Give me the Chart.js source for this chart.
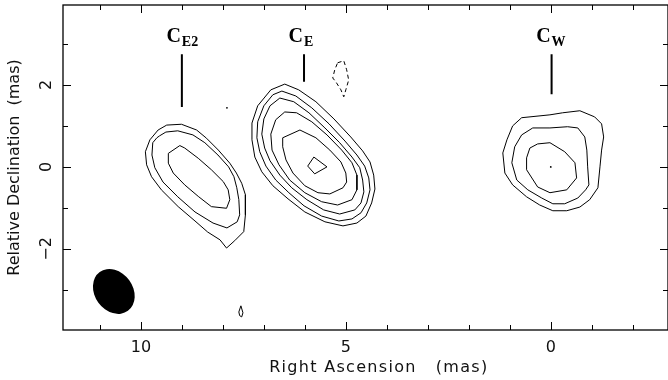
<!DOCTYPE html>
<html>
<head>
<meta charset="utf-8">
<script src="https://cdn.jsdelivr.net/npm/chart.js@4.4.1/dist/chart.umd.min.js"></script>
<style>
  body { margin: 0; background: #fff; }
</style>
</head>
<body>
<canvas id="mapChart" width="668" height="380"></canvas>
<script>
// axis limits in mas (RA grows to the left)
const raRange = [-2.86, 11.9];
const decRange = [-3.98, 3.95];
const raTickLabels = [10, 5, 0];
const decTickLabels = [2, 0, -2];

// component C_E2 contours [RA, Dec]
const ce2Outer = [[9.37,1.02],[9.01,1.04],[8.64,0.90],[8.40,0.70],[8.11,0.41],[7.83,0.09],[7.67,-0.15],[7.54,-0.40],[7.45,-0.68],[7.45,-1.17],[7.49,-1.58],[7.71,-1.80],[7.91,-1.98],[8.07,-1.78],[8.37,-1.59],[8.68,-1.32],[9.09,-0.97],[9.50,-0.56],[9.74,-0.24],[9.86,0.05],[9.89,0.37],[9.78,0.66],[9.58,0.90]];
const ce2Mid = [[9.54,0.76],[9.39,0.85],[9.10,0.88],[8.73,0.78],[8.44,0.59],[8.12,0.29],[7.86,0.00],[7.73,-0.24],[7.66,-0.51],[7.61,-0.80],[7.59,-1.17],[7.65,-1.34],[7.90,-1.49],[8.24,-1.37],[8.68,-1.10],[9.10,-0.73],[9.46,-0.37],[9.66,-0.02],[9.73,0.29],[9.71,0.59],[9.61,0.71]];
const ce2Inner = [[9.33,0.33],[9.05,0.52],[8.93,0.46],[8.60,0.21],[8.28,-0.07],[7.99,-0.36],[7.87,-0.56],[7.83,-0.80],[7.91,-1.01],[8.28,-0.97],[8.60,-0.72],[8.93,-0.44],[9.21,-0.15],[9.33,0.09]];

// component C_E contours
const ceLevel1 = [[6.49,2.02],[6.15,1.88],[5.73,1.59],[5.29,1.17],[4.88,0.73],[4.59,0.39],[4.41,0.12],[4.32,-0.20],[4.29,-0.54],[4.37,-0.88],[4.51,-1.20],[4.73,-1.37],[5.07,-1.44],[5.51,-1.34],[6.00,-1.10],[6.41,-0.78],[6.78,-0.46],[7.05,-0.12],[7.22,0.24],[7.29,0.66],[7.29,1.07],[7.15,1.49],[6.83,1.88]];
const ceLevel2 = [[6.56,1.85],[6.22,1.73],[5.83,1.44],[5.41,1.05],[5.02,0.63],[4.73,0.29],[4.54,0.02],[4.44,-0.27],[4.41,-0.56],[4.49,-0.88],[4.63,-1.12],[4.85,-1.27],[5.17,-1.32],[5.59,-1.20],[6.02,-0.95],[6.39,-0.63],[6.71,-0.32],[6.95,0.02],[7.10,0.37],[7.17,0.71],[7.15,1.10],[7.00,1.49],[6.78,1.76]];
const ceLevel3 = [[6.61,1.68],[6.27,1.59],[5.90,1.32],[5.51,0.95],[5.15,0.59],[4.85,0.24],[4.66,-0.02],[4.59,-0.32],[4.56,-0.61],[4.63,-0.88],[4.78,-1.05],[5.15,-1.15],[5.54,-1.05],[5.95,-0.80],[6.32,-0.51],[6.61,-0.20],[6.85,0.15],[6.98,0.46],[7.05,0.80],[7.00,1.17],[6.85,1.49]];
const ceLevel4 = [[6.49,1.34],[6.20,1.32],[5.83,1.10],[5.46,0.78],[5.10,0.41],[4.85,0.10],[4.73,-0.20],[4.73,-0.56],[4.85,-0.80],[5.20,-0.93],[5.59,-0.85],[6.00,-0.63],[6.37,-0.32],[6.63,0.05],[6.80,0.41],[6.83,0.80],[6.71,1.15]];
const ceLevel5 = [[6.54,0.71],[6.12,0.90],[5.73,0.71],[5.39,0.41],[5.12,0.12],[5.00,-0.15],[4.98,-0.37],[5.07,-0.51],[5.39,-0.66],[5.68,-0.63],[6.00,-0.46],[6.29,-0.15],[6.46,0.17],[6.54,0.49]];
const cePeak = [[5.93,0.02],[5.78,0.24],[5.46,0.00],[5.76,-0.17]];
const ceNegative = [[5.20,2.54],[5.05,2.59],[4.98,2.37],[4.93,2.12],[5.00,1.88],[5.05,1.71],[5.12,1.88],[5.24,2.07],[5.32,2.17],[5.27,2.37]];

// component C_W contours
const cwOuter = [[0.71,1.20],[0.02,1.27],[-0.29,1.32],[-0.71,1.37],[-1.07,1.22],[-1.24,1.05],[-1.29,0.73],[-1.24,0.41],[-1.20,0.00],[-1.15,-0.51],[-0.95,-0.80],[-0.71,-0.98],[-0.39,-1.07],[-0.05,-1.07],[0.27,-0.93],[0.59,-0.73],[0.93,-0.44],[1.12,-0.15],[1.17,0.34],[1.07,0.66],[0.93,1.00]];
const cwMid = [[0.71,0.78],[0.44,0.95],[0.02,0.95],[-0.41,0.98],[-0.66,0.95],[-0.83,0.73],[-0.88,0.41],[-0.90,0.00],[-0.93,-0.44],[-0.85,-0.56],[-0.66,-0.76],[-0.34,-0.90],[-0.05,-0.90],[0.22,-0.76],[0.56,-0.56],[0.83,-0.32],[0.95,0.10],[0.88,0.49]];
const cwInner = [[0.51,0.46],[0.32,0.56],[0.02,0.59],[-0.34,0.37],[-0.59,0.10],[-0.63,-0.27],[-0.39,-0.56],[0.02,-0.63],[0.32,-0.49],[0.59,-0.07],[0.59,0.22]];

// stray specks
const bottomSpeck = [[7.56,-3.39],[7.51,-3.56],[7.54,-3.66],[7.59,-3.63],[7.61,-3.54]];
const peakDots = [[0.00,0.00],[7.90,1.44]];

// component markers
const compNames = ['E2', 'E', 'W'];
const compRA = [9.0, 6.02, -0.02];
const markerTop = 2.75;
const markerBottom = [1.46, 2.08, 1.77];
const labelDec = 3.05;

// restoring beam (mas, deg)
const beamCenter = [10.66, -3.04];
const beamMajor = 1.17;
const beamMinor = 0.93;
const beamPA = 36;

// x title starts at this RA
const xTitleText = 'Right Ascension   (mas)';
const xTitleStartRA = 6.87;

const closed = arr => arr.concat([arr[0]]).map(p => ({x: p[0], y: p[1]}));
const contour = (arr, dash) => ({
    data: closed(arr),
    showLine: true,
    borderColor: '#000',
    borderWidth: 1,
    borderDash: dash || [],
    pointRadius: 0,
    tension: 0
});

const contours = [ce2Outer, ce2Mid, ce2Inner, ceLevel1, ceLevel2, ceLevel3, ceLevel4, ceLevel5, cePeak,
    cwOuter, cwMid, cwInner, bottomSpeck];
const datasets = contours.map(c => contour(c));
datasets.push(contour(ceNegative, [4, 3]));
compRA.forEach((ra, i) => {
    datasets.push({
        data: [{x: ra, y: markerTop}, {x: ra, y: markerBottom[i]}],
        showLine: true, borderColor: '#000', borderWidth: 2, pointRadius: 0
    });
});
datasets.push({
    data: peakDots.map(p => ({x: p[0], y: p[1]})),
    showLine: false, pointRadius: 0.9, pointBackgroundColor: '#000', pointBorderWidth: 0
});

const sansFont = '"DejaVu Sans", Verdana, sans-serif';

const mapDecor = {
    id: 'mapDecor',
    beforeDatasetsDraw(chart) {
        const {ctx, scales: {x, y}} = chart;
        const pxPerMas = Math.abs(x.getPixelForValue(1) - x.getPixelForValue(0));
        ctx.save();
        ctx.fillStyle = '#000';
        ctx.beginPath();
        ctx.ellipse(x.getPixelForValue(beamCenter[0]), y.getPixelForValue(beamCenter[1]),
            beamMajor / 2 * pxPerMas, beamMinor / 2 * pxPerMas, (90 - beamPA) * Math.PI / 180, 0, 2 * Math.PI);
        ctx.fill();
        ctx.restore();
    },
    afterDraw(chart) {
        const {ctx, chartArea: a, scales: {x, y}} = chart;
        ctx.save();
        ctx.strokeStyle = '#000';
        ctx.lineWidth = 1.3;
        ctx.strokeRect(a.left, a.top, a.right - a.left, a.bottom - a.top);

        // inward ticks on all four sides
        ctx.lineWidth = 1;
        ctx.beginPath();
        for (let v = Math.ceil(raRange[0]); v <= raRange[1]; v++) {
            const px = Math.round(x.getPixelForValue(v)) + 0.5;
            const len = v % 5 === 0 ? 8 : 5;
            ctx.moveTo(px, a.bottom); ctx.lineTo(px, a.bottom - len);
            ctx.moveTo(px, a.top); ctx.lineTo(px, a.top + len);
        }
        for (let v = Math.ceil(decRange[0]); v <= decRange[1]; v++) {
            const py = Math.round(y.getPixelForValue(v)) + 0.5;
            const len = v % 2 === 0 ? 8 : 5;
            ctx.moveTo(a.left, py); ctx.lineTo(a.left + len, py);
            ctx.moveTo(a.right, py); ctx.lineTo(a.right - len, py);
        }
        ctx.stroke();

        // rotated declination tick labels
        ctx.fillStyle = '#111';
        ctx.font = '16px ' + sansFont;
        ctx.textAlign = 'center';
        ctx.textBaseline = 'middle';
        decTickLabels.forEach(v => {
            ctx.save();
            ctx.translate(a.left - 16, y.getPixelForValue(v));
            ctx.rotate(-Math.PI / 2);
            ctx.fillText(v < 0 ? '\u2212' + Math.abs(v) : String(v), 0, 0);
            ctx.restore();
        });

        // x axis title (sits off-centre in the original)
        ctx.textAlign = 'left';
        ctx.textBaseline = 'alphabetic';
        if ('letterSpacing' in ctx) ctx.letterSpacing = '1.3px';
        ctx.fillText(xTitleText, x.getPixelForValue(xTitleStartRA), a.bottom + 42);
        if ('letterSpacing' in ctx) ctx.letterSpacing = '0px';

        // component names with subscripts
        ctx.fillStyle = '#000';
        const ly = y.getPixelForValue(labelDec);
        compNames.forEach((name, i) => {
            const lx = x.getPixelForValue(compRA[i]);
            ctx.font = 'bold 20px "Liberation Serif", "Times New Roman", serif';
            ctx.textAlign = 'right';
            ctx.fillText('C', lx - 1, ly);
            ctx.font = 'bold 14px "Liberation Serif", "Times New Roman", serif';
            ctx.textAlign = 'left';
            ctx.fillText(name, lx, ly + 4);
        });
        ctx.restore();
    }
};

new Chart(document.getElementById('mapChart'), {
    type: 'scatter',
    data: {datasets: datasets},
    options: {
        responsive: false,
        animation: false,
        events: [],
        layout: {autoPadding: false, padding: {top: 5, right: 0, left: 0, bottom: 0}},
        plugins: {legend: {display: false}, tooltip: {enabled: false}},
        scales: {
            x: {
                type: 'linear',
                reverse: true,
                min: raRange[0],
                max: raRange[1],
                grid: {display: false},
                border: {display: false},
                ticks: {
                    stepSize: 1,
                    includeBounds: false,
                    autoSkip: false,
                    maxRotation: 0,
                    padding: 0,
                    color: '#111',
                    font: {family: sansFont, size: 16},
                    callback: v => raTickLabels.some(t => Math.abs(t - v) < 1e-6) ? String(Math.round(v)) : ''
                },
                title: {display: false},
                afterFit: s => { s.height = 50; }
            },
            y: {
                type: 'linear',
                min: decRange[0],
                max: decRange[1],
                grid: {display: false},
                border: {display: false},
                ticks: {display: false},
                title: {
                    display: true,
                    text: 'Relative Declination  (mas)',
                    color: '#111',
                    font: {family: sansFont, size: 16},
                    padding: {top: 5, bottom: 0}
                },
                afterFit: s => { s.width = 63; }
            }
        }
    },
    plugins: [mapDecor]
});
</script>
</body>
</html>
